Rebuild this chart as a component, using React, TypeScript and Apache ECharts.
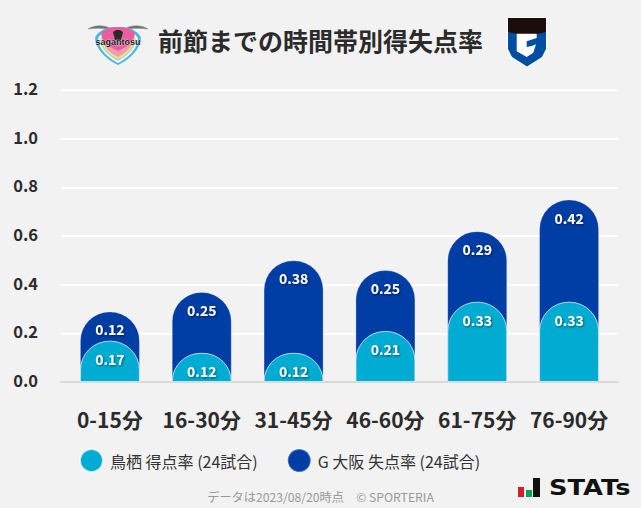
import React, { useEffect, useRef } from "react";
import * as echarts from "echarts";

const categories = ["0-15分", "16-30分", "31-45分", "46-60分", "61-75分", "76-90分"];
const saganRate = [0.17, 0.12, 0.12, 0.21, 0.33, 0.33];
const gambaRate = [0.12, 0.25, 0.38, 0.25, 0.29, 0.42];
const saganName = "鳥栖 得点率 (24試合)";
const gambaName = "G 大阪 失点率 (24試合)";
const titleText = "前節までの時間帯別得失点率";
const footerText = "データは2023/08/20時点　© SPORTERIA";
const stackTotals = saganRate.map((v, i) => Math.round((v + gambaRate[i]) * 100) / 100);

const FONT = '"Noto Sans CJK JP", "Noto Sans", sans-serif';

echarts.graphic.registerShape(
  "crestShield",
  echarts.graphic.extendPath(
    "M0 -50 C25 -50 40 -42 50 -25 C55 -5 35 30 0 50 C-35 30 -55 -5 -50 -25 C-40 -42 -25 -50 0 -50 Z",
    {}
  ) as any
);
echarts.graphic.registerShape(
  "crestWing",
  echarts.graphic.extendPath("M0 1 C8 -4 18 -3 25 2 C18 0 8 0 0 1 Z", {}) as any
);

const layer = (x: number, y: number, sx: number, sy: number, fill: string) => ({
  type: "crestShield",
  x,
  y,
  scaleX: sx,
  scaleY: sy,
  style: { fill },
});

const poly = (points: number[][], fill: string) => ({
  type: "polygon",
  shape: { points },
  style: { fill },
});

export default function App() {
  const ref = useRef<HTMLDivElement>(null);
  useEffect(() => {
    const chart = echarts.init(ref.current!, null, { renderer: "svg" });
    const barLabel = {
      show: true,
      position: "insideTop" as const,
      distance: 11,
      color: "#fff",
      fontFamily: FONT,
      fontSize: 14,
      fontWeight: 700,
      textShadowColor: "rgba(0,0,0,0.55)",
      textShadowBlur: 2,
      textShadowOffsetX: 1,
      textShadowOffsetY: 1,
    };
    chart.setOption({
      animation: false,
      backgroundColor: "#f2f2f2",
      textStyle: { fontFamily: FONT },
      grid: [
        { left: 64, right: 26, top: 90, bottom: 126 },
        { left: 61, right: 23, top: 90, bottom: 126 },
      ],
      title: {
        text: titleText,
        left: 153,
        top: 22,
        textStyle: { fontFamily: FONT, fontSize: 25, fontWeight: 700, color: "#2b2b2b" },
      },
      legend: {
        data: [saganName, gambaName],
        left: 74,
        top: 443,
        icon: "circle",
        itemWidth: 23,
        itemHeight: 23,
        itemGap: 29,
        textStyle: { fontFamily: FONT, fontSize: 16, color: "#333", padding: [0, 0, 0, 2] },
      },
      xAxis: [
        {
          type: "category",
          gridIndex: 0,
          data: categories,
          axisTick: { show: false },
          axisLine: { show: false },
          axisLabel: { color: "#2b2b2b", fontFamily: FONT, fontSize: 21, fontWeight: 700, margin: 26, interval: 0 },
        },
        {
          type: "value",
          gridIndex: 1,
          min: 0,
          max: 1,
          axisTick: { show: false },
          axisLabel: { show: false },
          splitLine: { show: false },
          axisLine: { show: true, lineStyle: { color: "#d9d9d9", width: 2 } },
        },
      ],
      yAxis: [
        {
          type: "value",
          gridIndex: 0,
          min: 0,
          max: 1.2,
          interval: 0.2,
          show: false,
        },
        {
          type: "value",
          gridIndex: 1,
          min: 0,
          max: 1.2,
          interval: 0.2,
          axisLine: { show: false },
          axisTick: { show: false },
          splitLine: { lineStyle: { color: "#ffffff", width: 2 } },
          axisLabel: {
            color: "#2b2b2b",
            fontFamily: FONT,
            fontSize: 16.5,
            fontWeight: 700,
            margin: 23,
            verticalAlign: "bottom",
            lineHeight: 4,
            formatter: (v: number) => v.toFixed(1),
          },
        },
      ],
      series: [
        {
          name: gambaName,
          type: "bar",
          xAxisIndex: 0,
          yAxisIndex: 0,
          data: stackTotals,
          barWidth: 60,
          barGap: "-100%",
          itemStyle: {
            color: "#003da5",
            borderRadius: [29, 29, 0, 0],
            borderColor: "rgba(255,255,255,0.25)",
            borderWidth: 1,
          },
          label: {
            ...barLabel,
            formatter: (p: any) => gambaRate[p.dataIndex].toFixed(2),
          },
        },
        {
          name: saganName,
          type: "bar",
          xAxisIndex: 0,
          yAxisIndex: 0,
          data: saganRate,
          barWidth: 60,
          barGap: "-100%",
          itemStyle: {
            color: "#00acd2",
            borderRadius: [29, 29, 0, 0],
            borderColor: "rgba(255,255,255,0.7)",
            borderWidth: 1,
          },
          label: {
            ...barLabel,
            formatter: (p: any) => saganRate[p.dataIndex].toFixed(2),
          },
        },
      ],
      graphic: [
        {
          type: "group",
          silent: true,
          children: [
            { type: "crestWing", x: 88, y: 28, style: { fill: "#6f6f6f", stroke: "#8a8a8a", lineWidth: 0.5 } },
            { type: "crestWing", x: 148, y: 28, scaleX: -1, style: { fill: "#6f6f6f", stroke: "#8a8a8a", lineWidth: 0.5 } },
            layer(118, 46, 0.45, 0.38, "#4cb8e2"),
            layer(118, 46, 0.39, 0.34, "#ffffff"),
            layer(118, 46, 0.35, 0.3, "#a8dcc8"),
            layer(118, 45, 0.33, 0.28, "#f4e774"),
            layer(118, 44, 0.31, 0.26, "#f39ab5"),
            layer(118, 39, 0.33, 0.24, "#ea5d9f"),
            poly([[113, 32], [116, 30], [120, 30], [123, 32], [121, 40], [115, 40]], "#2a2a2a"),
            {
              type: "text",
              x: 118,
              y: 42,
              style: { text: "sagantosu", fill: "#1a1a1a", font: '700 9px "Liberation Sans"', align: "center", verticalAlign: "middle", stroke: "#ffffff", lineWidth: 0.5 },
            },
          ],
        },
        {
          type: "group",
          silent: true,
          children: [
            poly([[507, 17], [547, 17], [547, 50], [543, 58], [527, 68], [511, 58], [507, 50]], "#ffffff"),
            poly([[508, 32], [546, 32], [546, 49], [542, 57], [527, 66.5], [512, 57], [508, 49]], "#004ea2"),
            poly([[508, 18], [546, 18], [546, 32], [537, 34], [517, 34], [508, 32]], "#1a0d0b"),
            poly([[516.7, 33.7], [536.7, 33.7], [536.7, 38], [526.7, 41.3], [526.7, 47], [531.7, 46], [536, 44.3], [533.3, 52.7], [526.7, 57], [516.7, 51.3]], "#ffffff"),
          ],
        },
        {
          type: "text",
          x: 320.5,
          y: 497,
          style: { text: footerText, fill: "#999999", font: `12.2px ${FONT}`, align: "center", verticalAlign: "middle" },
        },
        {
          type: "group",
          silent: true,
          children: [
            { type: "rect", shape: { x: 518, y: 487, width: 6, height: 10 }, style: { fill: "#d32027" } },
            { type: "rect", shape: { x: 526, y: 490, width: 6, height: 7 }, style: { fill: "#00a651" } },
            { type: "rect", shape: { x: 533, y: 478, width: 7, height: 19 }, style: { fill: "#111111" } },
            { type: "text", x: 549, y: 488, scaleX: 1.17, style: { text: "STATs", fill: "#111111", font: '700 22px "DejaVu Sans"', verticalAlign: "middle" } },
          ],
        },
      ],
    });
    return () => chart.dispose();
  }, []);
  return <div ref={ref} style={{ position: "absolute", left: 0, top: 0, width: 641, height: 508 }} />;
}
